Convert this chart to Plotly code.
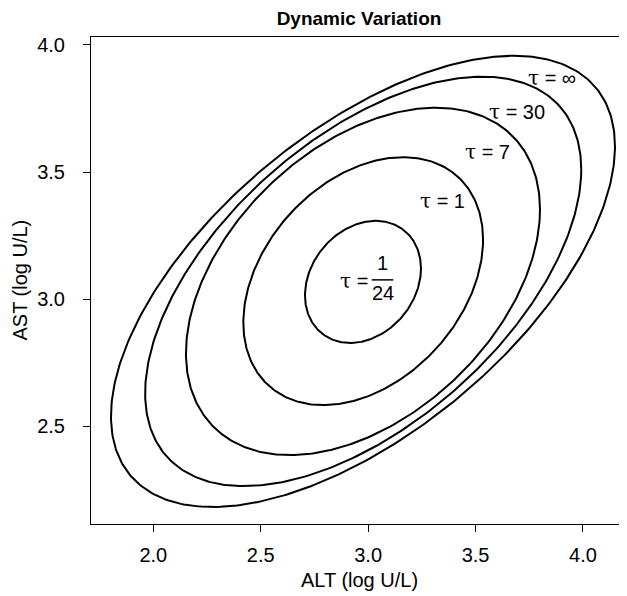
import numpy as np
import plotly.graph_objects as go

# ---- data ----
tau_labels = ["1/24", "1", "7", "30", "∞"]
center_alt = [2.976, 2.977, 2.976, 2.977, 2.976]
center_ast = [3.068, 3.071, 3.070, 3.070, 3.070]
half_alt = [0.270, 0.558, 0.824, 1.015, 1.173]   # half extent along ALT
half_ast = [0.240, 0.4875, 0.683, 0.805, 0.887]  # half extent along AST
corr = [0.22, 0.334, 0.414, 0.546, 0.598]

# label positions (data coords)
label_alt = [None, 3.344, 3.554, 3.694, 3.857]
label_ast = [None, 3.386, 3.579, 3.736, 3.870]

x_ticks = [2.0, 2.5, 3.0, 3.5, 4.0]
y_ticks = [2.5, 3.0, 3.5, 4.0]

FONT = "Liberation Sans, Arial, Helvetica, sans-serif"
FS = 20

fig = go.Figure()
t = np.linspace(0, 2 * np.pi, 400)
for cx, cy, hx, hy, r in zip(center_alt, center_ast, half_alt, half_ast, corr):
    xs = cx + hx * np.cos(t)
    ys = cy + hy * (r * np.cos(t) + np.sqrt(1 - r * r) * np.sin(t))
    fig.add_trace(go.Scatter(x=xs, y=ys, mode="lines",
                             line=dict(color="black", width=2),
                             hoverinfo="skip", showlegend=False))

tau = '<span style="font-family:DejaVu Serif, serif">τ</span>'
lab_font = dict(family=FONT, size=FS, color="black")
for lab, lx, ly in zip(tau_labels, label_alt, label_ast):
    if lx is None:
        continue
    fig.add_annotation(x=lx, y=ly, text=f"{tau} = {lab}", showarrow=False,
                       font=lab_font, xanchor="center", yanchor="middle")

# fraction label for tau = 1/24
fx, fy = 3.067, 3.076
fig.add_annotation(x=2.934, y=3.07, text=f"{tau} =", showarrow=False,
                   font=lab_font, xanchor="center", yanchor="middle")
fig.add_annotation(x=fx, y=3.142, text="1", showarrow=False,
                   font=lab_font, xanchor="center", yanchor="middle")
fig.add_annotation(x=fx, y=3.025, text="24", showarrow=False,
                   font=lab_font, xanchor="center", yanchor="middle")
fig.add_shape(type="line", x0=fx - 0.05, x1=fx + 0.05, y0=fy, y1=fy,
              line=dict(color="black", width=1.5))

axis_common = dict(showgrid=False, zeroline=False, showline=True,
                   linecolor="black", linewidth=1, ticks="outside",
                   ticklen=7, tickwidth=1, tickcolor="black",
                   tickfont=dict(family=FONT, size=FS, color="black"))

W, H = 619, 588  # page body adds an 8px offset
fig.update_layout(
    width=W, height=H,
    margin=dict(l=83, r=0, t=29, b=72),
    paper_bgcolor="white", plot_bgcolor="white",
    title=dict(text="<b>Dynamic Variation</b>", x=0.5, xref="paper",
               y=1 - 10.5 / H, yref="container", yanchor="middle",
               font=dict(family=FONT, size=19, color="black")),
    xaxis=dict(range=[1.710, 4.205], tickvals=x_ticks,
               ticktext=[f"{v:.1f}" for v in x_ticks], mirror=True,
               ticklabelstandoff=6, **axis_common),
    yaxis=dict(range=[2.116, 4.031], tickvals=y_ticks,
               ticktext=[f"{v:.1f}" for v in y_ticks], mirror=False,
               ticklabelstandoff=14, **axis_common),
)
fig.add_annotation(text="ALT (log U/L)", xref="paper", yref="paper",
                   x=0.5, y=0, yshift=-56, showarrow=False,
                   xanchor="center", yanchor="middle",
                   font=dict(family=FONT, size=FS, color="black"))
fig.add_annotation(text="AST (log U/L)", xref="paper", yref="paper",
                   x=0, y=0.5, xshift=-72, textangle=-90, showarrow=False,
                   xanchor="center", yanchor="middle",
                   font=dict(family=FONT, size=FS, color="black"))

fig.write_html("out.html")
